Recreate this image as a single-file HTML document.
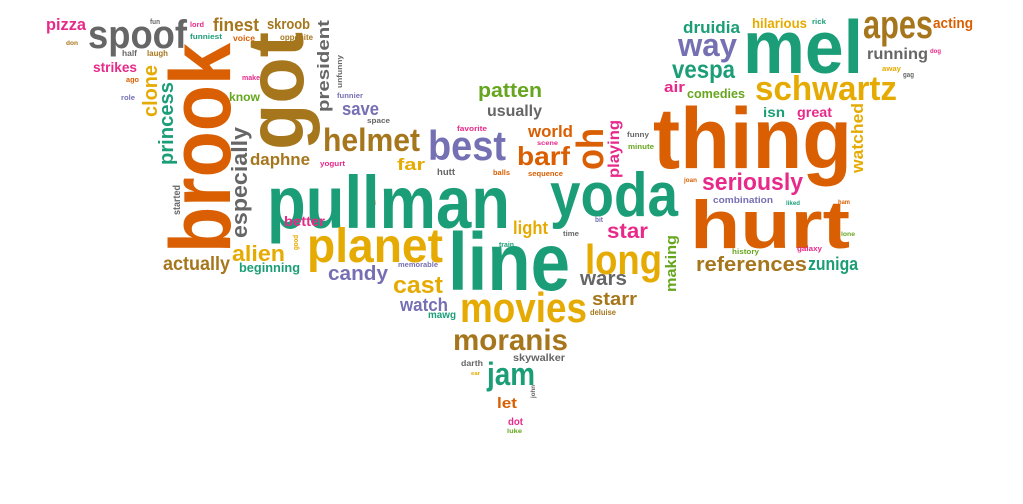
<!DOCTYPE html>
<html><head><meta charset="utf-8"><title>Word cloud</title>
<style>
html,body{margin:0;padding:0;background:#fff;}
svg{display:block;}
text{font-family:"Liberation Sans",sans-serif;font-weight:bold;}
.t{fill:#1b9e77}.o{fill:#d95f02}.p{fill:#7570b3}.k{fill:#e7298a}.g{fill:#66a61e}.y{fill:#e6ab02}.b{fill:#a6761d}.r{fill:#666666}
</style></head>
<body>
<svg width="1023" height="504" viewBox="0 0 1023 504" xmlns="http://www.w3.org/2000/svg">
<g lengthAdjust="spacingAndGlyphs">
<text class="k" x="46" y="30" font-size="17" textLength="40" lengthAdjust="spacingAndGlyphs">pizza</text>
<text class="r" x="150" y="24" font-size="7" textLength="10" lengthAdjust="spacingAndGlyphs">fun</text>
<text class="b" x="66" y="45" font-size="6" textLength="12" lengthAdjust="spacingAndGlyphs">don</text>
<text class="r" x="88" y="48" font-size="40" textLength="99" lengthAdjust="spacingAndGlyphs">spoof</text>
<text class="k" x="190" y="27" font-size="7" textLength="14" lengthAdjust="spacingAndGlyphs">lord</text>
<text class="t" x="190" y="39" font-size="7" textLength="32" lengthAdjust="spacingAndGlyphs">funniest</text>
<text class="b" x="213" y="31" font-size="18" textLength="46" lengthAdjust="spacingAndGlyphs">finest</text>
<text class="o" x="233" y="41" font-size="8" textLength="22" lengthAdjust="spacingAndGlyphs">voice</text>
<text class="b" x="267" y="29" font-size="15" textLength="43" lengthAdjust="spacingAndGlyphs">skroob</text>
<text class="b" x="280" y="40" font-size="8" textLength="33" lengthAdjust="spacingAndGlyphs">opposite</text>
<text class="r" x="122" y="56" font-size="8" textLength="15" lengthAdjust="spacingAndGlyphs">half</text>
<text class="b" x="147" y="56" font-size="8" textLength="21" lengthAdjust="spacingAndGlyphs">laugh</text>
<text class="k" x="93" y="72" font-size="14" textLength="44" lengthAdjust="spacingAndGlyphs">strikes</text>
<text class="o" x="126" y="82" font-size="7" textLength="13" lengthAdjust="spacingAndGlyphs">ago</text>
<text class="p" x="121" y="100" font-size="7" textLength="14" lengthAdjust="spacingAndGlyphs">role</text>
<text class="k" x="242" y="80" font-size="7" textLength="18" lengthAdjust="spacingAndGlyphs">make</text>
<text class="g" x="229" y="101" font-size="12" textLength="31" lengthAdjust="spacingAndGlyphs">know</text>
<text class="p" x="337" y="98" font-size="7" textLength="26" lengthAdjust="spacingAndGlyphs">funnier</text>
<text class="p" x="342" y="115" font-size="18" textLength="37" lengthAdjust="spacingAndGlyphs">save</text>
<text class="r" x="367" y="123" font-size="7" textLength="23" lengthAdjust="spacingAndGlyphs">space</text>
<text class="b" x="250" y="165" font-size="17" textLength="60" lengthAdjust="spacingAndGlyphs">daphne</text>
<text class="b" x="323" y="151" font-size="32" textLength="97" lengthAdjust="spacingAndGlyphs">helmet</text>
<text class="p" x="428" y="160" font-size="42" textLength="78" lengthAdjust="spacingAndGlyphs">best</text>
<text class="k" x="457" y="131" font-size="7" textLength="30" lengthAdjust="spacingAndGlyphs">favorite</text>
<text class="k" x="320" y="166" font-size="7" textLength="25" lengthAdjust="spacingAndGlyphs">yogurt</text>
<text class="y" x="397" y="170" font-size="17" textLength="28" lengthAdjust="spacingAndGlyphs">far</text>
<text class="r" x="437" y="175" font-size="9" textLength="18" lengthAdjust="spacingAndGlyphs">hutt</text>
<text class="o" x="371" y="205" font-size="6" textLength="5" lengthAdjust="spacingAndGlyphs">fi</text>
<text class="t" x="267" y="228" font-size="74" textLength="243" lengthAdjust="spacingAndGlyphs">pullman</text>
<text class="k" x="284" y="226" font-size="14" textLength="41" lengthAdjust="spacingAndGlyphs">better</text>
<text class="y" x="232" y="261" font-size="22" textLength="53" lengthAdjust="spacingAndGlyphs">alien</text>
<text class="y" x="307" y="262" font-size="48" textLength="136" lengthAdjust="spacingAndGlyphs">planet</text>
<text class="b" x="163" y="270" font-size="19" textLength="67" lengthAdjust="spacingAndGlyphs">actually</text>
<text class="t" x="239" y="272" font-size="13" textLength="61" lengthAdjust="spacingAndGlyphs">beginning</text>
<text class="p" x="328" y="280" font-size="20" textLength="60" lengthAdjust="spacingAndGlyphs">candy</text>
<text class="p" x="398" y="267" font-size="7" textLength="40" lengthAdjust="spacingAndGlyphs">memorable</text>
<text class="y" x="513" y="234" font-size="18" textLength="35" lengthAdjust="spacingAndGlyphs">light</text>
<text class="r" x="563" y="236" font-size="7" textLength="16" lengthAdjust="spacingAndGlyphs">time</text>
<text class="p" x="595" y="222" font-size="7" textLength="8" lengthAdjust="spacingAndGlyphs">bit</text>
<text class="k" x="607" y="238" font-size="21" textLength="41" lengthAdjust="spacingAndGlyphs">star</text>
<text class="t" x="499" y="247" font-size="7" textLength="15" lengthAdjust="spacingAndGlyphs">train</text>
<text class="t" x="448" y="290" font-size="82" textLength="122" lengthAdjust="spacingAndGlyphs">line</text>
<text class="y" x="585" y="274" font-size="42" textLength="77" lengthAdjust="spacingAndGlyphs">long</text>
<text class="y" x="393" y="293" font-size="24" textLength="50" lengthAdjust="spacingAndGlyphs">cast</text>
<text class="r" x="580" y="285" font-size="20" textLength="47" lengthAdjust="spacingAndGlyphs">wars</text>
<text class="b" x="592" y="305" font-size="18" textLength="45" lengthAdjust="spacingAndGlyphs">starr</text>
<text class="p" x="400" y="311" font-size="18" textLength="48" lengthAdjust="spacingAndGlyphs">watch</text>
<text class="t" x="428" y="318" font-size="10" textLength="28" lengthAdjust="spacingAndGlyphs">mawg</text>
<text class="y" x="460" y="322" font-size="42" textLength="127" lengthAdjust="spacingAndGlyphs">movies</text>
<text class="b" x="590" y="315" font-size="8" textLength="26" lengthAdjust="spacingAndGlyphs">deluise</text>
<text class="b" x="453" y="350" font-size="30" textLength="115" lengthAdjust="spacingAndGlyphs">moranis</text>
<text class="r" x="513" y="361" font-size="10" textLength="52" lengthAdjust="spacingAndGlyphs">skywalker</text>
<text class="r" x="461" y="366" font-size="8" textLength="22" lengthAdjust="spacingAndGlyphs">darth</text>
<text class="y" x="471" y="375" font-size="5" textLength="9" lengthAdjust="spacingAndGlyphs">ear</text>
<text class="t" x="487" y="385" font-size="32" textLength="48" lengthAdjust="spacingAndGlyphs">jam</text>
<text class="o" x="497" y="408" font-size="15" textLength="20" lengthAdjust="spacingAndGlyphs">let</text>
<text class="k" x="508" y="425" font-size="10" textLength="15" lengthAdjust="spacingAndGlyphs">dot</text>
<text class="g" x="507" y="433" font-size="6" textLength="15" lengthAdjust="spacingAndGlyphs">luke</text>
<text class="t" x="683" y="33" font-size="17" textLength="57" lengthAdjust="spacingAndGlyphs">druidia</text>
<text class="y" x="752" y="28" font-size="14" textLength="55" lengthAdjust="spacingAndGlyphs">hilarious</text>
<text class="t" x="812" y="24" font-size="7" textLength="14" lengthAdjust="spacingAndGlyphs">rick</text>
<text class="t" x="743" y="73" font-size="75" textLength="120" lengthAdjust="spacingAndGlyphs">mel</text>
<text class="b" x="863" y="38" font-size="40" textLength="70" lengthAdjust="spacingAndGlyphs">apes</text>
<text class="o" x="933" y="28" font-size="15" textLength="40" lengthAdjust="spacingAndGlyphs">acting</text>
<text class="p" x="678" y="56" font-size="32" textLength="59" lengthAdjust="spacingAndGlyphs">way</text>
<text class="r" x="867" y="59" font-size="16" textLength="61" lengthAdjust="spacingAndGlyphs">running</text>
<text class="k" x="930" y="53" font-size="6" textLength="11" lengthAdjust="spacingAndGlyphs">dog</text>
<text class="y" x="882" y="71" font-size="7" textLength="19" lengthAdjust="spacingAndGlyphs">away</text>
<text class="r" x="903" y="77" font-size="7" textLength="11" lengthAdjust="spacingAndGlyphs">gag</text>
<text class="t" x="672" y="78" font-size="25" textLength="63" lengthAdjust="spacingAndGlyphs">vespa</text>
<text class="k" x="664" y="92" font-size="15" textLength="21" lengthAdjust="spacingAndGlyphs">air</text>
<text class="g" x="687" y="98" font-size="13" textLength="58" lengthAdjust="spacingAndGlyphs">comedies</text>
<text class="y" x="755" y="100" font-size="34" textLength="142" lengthAdjust="spacingAndGlyphs">schwartz</text>
<text class="g" x="478" y="97" font-size="20" textLength="64" lengthAdjust="spacingAndGlyphs">patten</text>
<text class="r" x="487" y="116" font-size="16" textLength="55" lengthAdjust="spacingAndGlyphs">usually</text>
<text class="t" x="763" y="117" font-size="14" textLength="22" lengthAdjust="spacingAndGlyphs">isn</text>
<text class="k" x="797" y="117" font-size="14" textLength="35" lengthAdjust="spacingAndGlyphs">great</text>
<text class="o" x="653" y="168" font-size="86" textLength="199" lengthAdjust="spacingAndGlyphs">thing</text>
<text class="o" x="528" y="137" font-size="17" textLength="45" lengthAdjust="spacingAndGlyphs">world</text>
<text class="k" x="537" y="145" font-size="6" textLength="21" lengthAdjust="spacingAndGlyphs">scene</text>
<text class="r" x="627" y="137" font-size="7" textLength="22" lengthAdjust="spacingAndGlyphs">funny</text>
<text class="g" x="628" y="149" font-size="7" textLength="26" lengthAdjust="spacingAndGlyphs">minute</text>
<text class="o" x="517" y="165" font-size="26" textLength="53" lengthAdjust="spacingAndGlyphs">barf</text>
<text class="o" x="493" y="175" font-size="7" textLength="17" lengthAdjust="spacingAndGlyphs">balls</text>
<text class="o" x="528" y="176" font-size="7" textLength="35" lengthAdjust="spacingAndGlyphs">sequence</text>
<text class="t" x="550" y="216" font-size="62" textLength="128" lengthAdjust="spacingAndGlyphs">yoda</text>
<text class="o" x="684" y="182" font-size="6" textLength="13" lengthAdjust="spacingAndGlyphs">joan</text>
<text class="k" x="702" y="190" font-size="24" textLength="101" lengthAdjust="spacingAndGlyphs">seriously</text>
<text class="p" x="713" y="203" font-size="9" textLength="60" lengthAdjust="spacingAndGlyphs">combination</text>
<text class="t" x="786" y="205" font-size="6" textLength="14" lengthAdjust="spacingAndGlyphs">liked</text>
<text class="o" x="838" y="204" font-size="6" textLength="12" lengthAdjust="spacingAndGlyphs">ham</text>
<text class="o" x="690" y="248" font-size="68" textLength="160" lengthAdjust="spacingAndGlyphs">hurt</text>
<text class="g" x="841" y="236" font-size="6" textLength="14" lengthAdjust="spacingAndGlyphs">lone</text>
<text class="g" x="732" y="254" font-size="7" textLength="27" lengthAdjust="spacingAndGlyphs">history</text>
<text class="k" x="797" y="251" font-size="7" textLength="25" lengthAdjust="spacingAndGlyphs">galaxy</text>
<text class="b" x="696" y="271" font-size="20" textLength="111" lengthAdjust="spacingAndGlyphs">references</text>
<text class="t" x="808" y="270" font-size="18" textLength="50" lengthAdjust="spacingAndGlyphs">zuniga</text>
</g>
<g>
<text class="o" transform="translate(230,253) rotate(-90)" font-size="86" textLength="210" lengthAdjust="spacingAndGlyphs">brook</text>
<text class="b" transform="translate(303,150) rotate(-90)" font-size="80" textLength="118" lengthAdjust="spacingAndGlyphs">got</text>
<text class="y" transform="translate(157,117) rotate(-90)" font-size="20" textLength="52" lengthAdjust="spacingAndGlyphs">clone</text>
<text class="t" transform="translate(173,165) rotate(-90)" font-size="20" textLength="83" lengthAdjust="spacingAndGlyphs">princess</text>
<text class="r" transform="translate(247,238) rotate(-90)" font-size="22" textLength="111" lengthAdjust="spacingAndGlyphs">especially</text>
<text class="r" transform="translate(329,112) rotate(-90)" font-size="17" textLength="92" lengthAdjust="spacingAndGlyphs">president</text>
<text class="r" transform="translate(342,88) rotate(-90)" font-size="7" textLength="33" lengthAdjust="spacingAndGlyphs">unfunny</text>
<text class="r" transform="translate(180,215) rotate(-90)" font-size="10" textLength="30" lengthAdjust="spacingAndGlyphs">started</text>
<text class="y" transform="translate(298,250) rotate(-90)" font-size="7" textLength="15" lengthAdjust="spacingAndGlyphs">good</text>
<text class="o" transform="translate(603,170) rotate(-90)" font-size="38" textLength="42" lengthAdjust="spacingAndGlyphs">oh</text>
<text class="k" transform="translate(619,178) rotate(-90)" font-size="16" textLength="58" lengthAdjust="spacingAndGlyphs">playing</text>
<text class="y" transform="translate(863,173) rotate(-90)" font-size="17" textLength="70" lengthAdjust="spacingAndGlyphs">watched</text>
<text class="g" transform="translate(676,292) rotate(-90)" font-size="15" textLength="57" lengthAdjust="spacingAndGlyphs">making</text>
<text class="r" transform="translate(535,398) rotate(-90)" font-size="6" textLength="13" lengthAdjust="spacingAndGlyphs">john</text>
</g>
</svg>
</body></html>
